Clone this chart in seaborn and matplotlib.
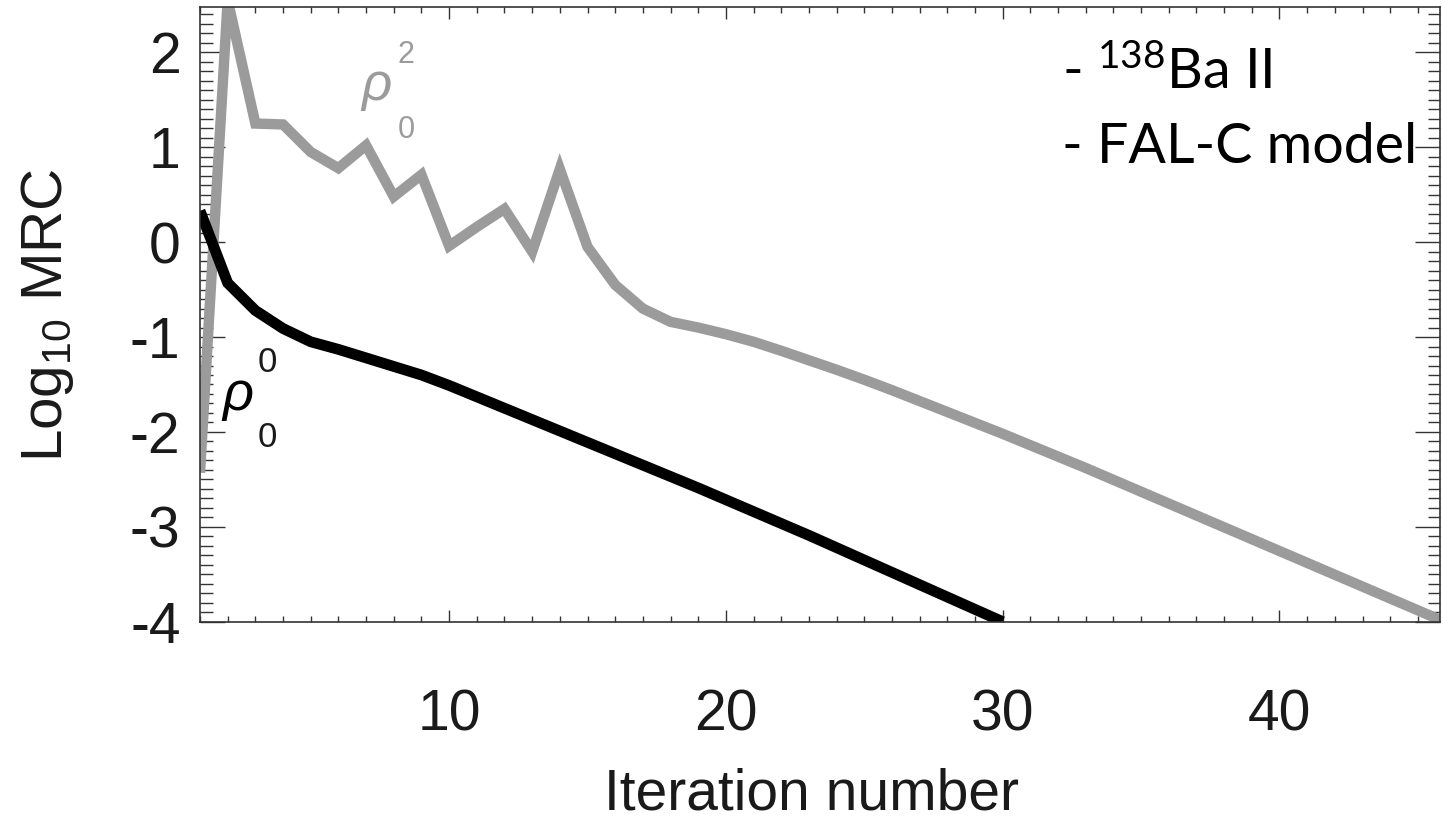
import numpy as np
import pandas as pd
import matplotlib
matplotlib.use('Agg')
import matplotlib.pyplot as plt
import seaborn as sns
from matplotlib.ticker import MultipleLocator, FixedLocator, FixedFormatter

# ---------------- data ----------------
iterations_rho2 = list(range(1, 47))
log_mrc_rho2 = [-2.43, 2.55, 1.25, 1.24, 0.95, 0.78, 1.02, 0.48, 0.71, -0.04,
                0.16, 0.35, -0.10, 0.77, -0.05, -0.45, -0.70, -0.84, -0.90, -0.97,
                -1.05, -1.145, -1.245, -1.345, -1.45, -1.56, -1.675, -1.79, -1.905, -2.02,
                -2.14, -2.26, -2.38, -2.505, -2.63, -2.755, -2.88, -3.005, -3.13, -3.255,
                -3.38, -3.505, -3.63, -3.755, -3.88, -4.005]
iterations_rho0 = list(range(1, 31))
log_mrc_rho0 = [0.33, -0.43, -0.72, -0.91, -1.05, -1.13, -1.22, -1.31, -1.40, -1.51,
                -1.63, -1.75, -1.87, -1.99, -2.11, -2.23, -2.35, -2.47, -2.59, -2.715,
                -2.84, -2.965, -3.09, -3.22, -3.35, -3.48, -3.61, -3.74, -3.87, -4.00]
x_ticks = [10, 20, 30, 40]
x_tick_labels = ['10', '20', '30', '40']
y_ticks = [-4, -3, -2, -1, 0, 1, 2]
y_tick_labels = ['-4', '-3', '-2', '-1', '0', '1', '2']
x_label = 'Iteration number'
y_label = r'Log$_{\mathsf{10}}$ MRC'
legend_lines = [r'- $^{\mathrm{138}}$Ba II', '- FAL-C model']

GRAY = '#9b9b9b'
AXC = '#333333'

sns.set_theme(style='ticks')
plt.rcParams['font.family'] = ['Liberation Sans', 'DejaVu Sans']
plt.rcParams['mathtext.fontset'] = 'custom'
plt.rcParams['mathtext.rm'] = 'Lato'
plt.rcParams['mathtext.sf'] = 'Liberation Sans'
plt.rcParams['mathtext.it'] = 'Liberation Sans:italic'

W, H = 1443, 823
fig = plt.figure(figsize=(W / 100, H / 100), dpi=100)
ax = fig.add_axes([200 / W, 1 - 621.7 / H, 1240 / W, (621.7 - 7.3) / H])

sns.lineplot(x=iterations_rho2, y=log_mrc_rho2, color=GRAY, linewidth=7.5,
             solid_capstyle='butt', solid_joinstyle='miter', ax=ax)
sns.lineplot(x=iterations_rho0, y=log_mrc_rho0, color='black', linewidth=7.8,
             solid_capstyle='butt', solid_joinstyle='miter', ax=ax)

ax.set_xlim(1, 45.8)
ax.set_ylim(-4.0, 2.475)

for s in ax.spines.values():
    s.set_visible(True)
    s.set_color(AXC)
    s.set_linewidth(1.2)

ax.xaxis.set_major_locator(FixedLocator(x_ticks))
ax.xaxis.set_major_formatter(FixedFormatter(x_tick_labels))
ax.xaxis.set_minor_locator(MultipleLocator(1))
ax.yaxis.set_major_locator(FixedLocator(y_ticks))
ax.yaxis.set_major_formatter(FixedFormatter(y_tick_labels))
ax.yaxis.set_minor_locator(MultipleLocator(0.1))

ax.tick_params(axis='x', which='major', direction='in', length=8.6, width=1.0,
               top=True, bottom=True, color=AXC, pad=48, labelsize=41,
               labelcolor='#1a1a1a')
ax.tick_params(axis='x', which='minor', direction='in', length=4.3, width=1.0,
               top=True, bottom=True, color=AXC)
ax.tick_params(axis='y', which='major', direction='in', length=18, width=1.0,
               left=True, right=True, color=AXC, pad=14, labelsize=41,
               labelcolor='#1a1a1a')
ax.tick_params(axis='y', which='minor', direction='in', length=9, width=1.0,
               left=True, right=True, color=AXC)

ax.set_xlabel(x_label, fontsize=41, color='#1a1a1a')
ax.xaxis.set_label_coords(812 / W, 1 - 810 / H, transform=fig.transFigure)
ax.xaxis.label.set_va('baseline')

ax.set_ylabel(y_label, fontsize=42, color='#1a1a1a', rotation=90)
ax.yaxis.set_label_coords(62 / W, 1 - 315 / H, transform=fig.transFigure)
ax.yaxis.label.set_rotation_mode('anchor')
ax.yaxis.label.set_va('baseline')
ax.yaxis.label.set_ha('center')

# curve annotations
ax.text(7.36, 1.50, 'ρ', fontstyle='italic', fontsize=38, color=GRAY,
        ha='center', va='baseline')
ax.text(8.45, 1.89, '2', fontsize=22, color=GRAY, ha='center', va='baseline')
ax.text(8.45, 1.10, '0', fontsize=22, color=GRAY, ha='center', va='baseline')
ax.text(2.35, -1.77, 'ρ', fontstyle='italic', fontsize=39, color='black',
        ha='center', va='baseline')
ax.text(3.43, -1.37, '0', fontsize=25, color='#1a1a1a', ha='center', va='baseline')
ax.text(3.43, -2.16, '0', fontsize=25, color='#1a1a1a', ha='center', va='baseline')

# legend-like text
ax.text(0.695, 0.867, legend_lines[0], transform=ax.transAxes, family='Lato',
        fontsize=40, color='black', ha='left', va='baseline')
ax.text(0.695, 0.7466, legend_lines[1], transform=ax.transAxes, family='Lato',
        fontsize=40, color='black', ha='left', va='baseline')

fig.savefig('out.png', dpi=100)
